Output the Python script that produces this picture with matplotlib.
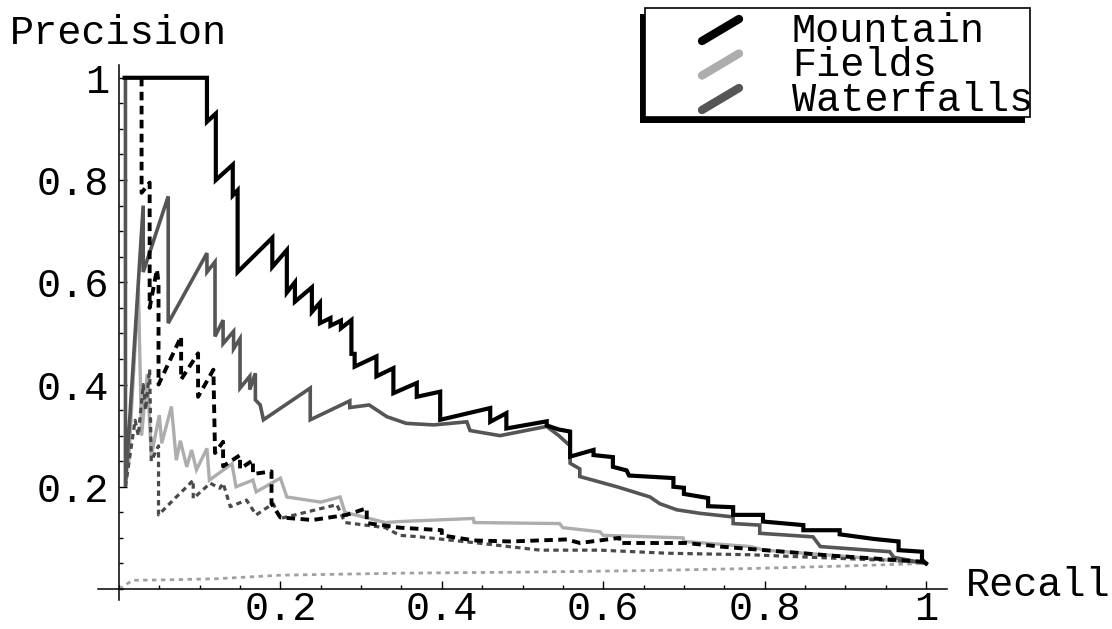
import matplotlib
matplotlib.use("Agg")
import matplotlib.pyplot as plt
from matplotlib.patches import Rectangle
from matplotlib.ticker import MultipleLocator

# --- data (recall, precision) ---
mountain_x = [0.007, 0.109, 0.109, 0.120, 0.120, 0.141, 0.141, 0.147, 0.147, 0.190,
              0.190, 0.208, 0.208, 0.218, 0.218, 0.239, 0.239, 0.249, 0.249, 0.262,
              0.262, 0.275, 0.275, 0.288, 0.288, 0.292, 0.292, 0.319, 0.319, 0.340,
              0.340, 0.369, 0.369, 0.398, 0.398, 0.460, 0.460, 0.480, 0.480, 0.530,
              0.530, 0.545, 0.559, 0.559, 0.588, 0.588, 0.612, 0.612, 0.629, 0.632,
              0.687, 0.687, 0.700, 0.700, 0.730, 0.730, 0.761, 0.761, 0.798, 0.798,
              0.848, 0.848, 0.893, 0.893, 0.935, 0.966, 0.966, 0.995, 0.995, 1.000]
mountain_y = [1.000, 1.000, 0.914, 0.930, 0.800, 0.830, 0.770, 0.780, 0.620, 0.687,
              0.630, 0.663, 0.580, 0.600, 0.562, 0.590, 0.542, 0.560, 0.520, 0.530,
              0.515, 0.525, 0.510, 0.526, 0.460, 0.460, 0.435, 0.455, 0.416, 0.432,
              0.383, 0.403, 0.376, 0.386, 0.331, 0.354, 0.327, 0.344, 0.314, 0.328,
              0.320, 0.312, 0.308, 0.259, 0.272, 0.262, 0.258, 0.239, 0.232, 0.222,
              0.217, 0.200, 0.198, 0.186, 0.178, 0.162, 0.160, 0.145, 0.145, 0.132,
              0.125, 0.115, 0.115, 0.107, 0.098, 0.093, 0.076, 0.073, 0.057, 0.050]

mountain_d_x = [0.028, 0.028, 0.038, 0.038, 0.047, 0.049, 0.049, 0.077, 0.077, 0.098,
                0.098, 0.117, 0.119, 0.129, 0.129, 0.150, 0.150, 0.166, 0.166, 0.189,
                0.189, 0.200, 0.240, 0.282, 0.307, 0.307, 0.348, 0.400, 0.400, 0.440,
                0.485, 0.555, 0.571, 0.620, 0.620, 0.703, 0.745, 0.800, 0.885, 1.000]
mountain_d_y = [1.000, 0.775, 0.795, 0.550, 0.625, 0.600, 0.400, 0.494, 0.410, 0.461,
                0.376, 0.429, 0.266, 0.288, 0.240, 0.262, 0.235, 0.252, 0.225, 0.230,
                0.167, 0.140, 0.135, 0.145, 0.158, 0.129, 0.120, 0.115, 0.105, 0.095,
                0.093, 0.097, 0.090, 0.100, 0.090, 0.090, 0.083, 0.076, 0.065, 0.053]

waterfalls_x = [0.008, 0.008, 0.030, 0.030, 0.061, 0.061, 0.109, 0.109, 0.119, 0.119,
                0.129, 0.129, 0.142, 0.142, 0.150, 0.150, 0.162, 0.162, 0.169, 0.169,
                0.175, 0.179, 0.237, 0.237, 0.286, 0.286, 0.310, 0.332, 0.356, 0.390,
                0.431, 0.435, 0.472, 0.530, 0.545, 0.559, 0.559, 0.571, 0.571, 0.617,
                0.658, 0.670, 0.691, 0.720, 0.761, 0.761, 0.794, 0.794, 0.860, 0.869,
                0.955, 0.960, 1.000]
waterfalls_y = [1.000, 0.200, 0.750, 0.620, 0.768, 0.520, 0.657, 0.620, 0.640, 0.494,
                0.526, 0.480, 0.504, 0.470, 0.490, 0.393, 0.416, 0.390, 0.422, 0.370,
                0.360, 0.331, 0.393, 0.331, 0.368, 0.355, 0.360, 0.337, 0.324, 0.321,
                0.327, 0.310, 0.300, 0.318, 0.300, 0.280, 0.246, 0.235, 0.220, 0.200,
                0.180, 0.167, 0.155, 0.148, 0.141, 0.128, 0.125, 0.109, 0.102, 0.083,
                0.073, 0.062, 0.050]

waterfalls_d_x = [0.008, 0.020, 0.024, 0.030, 0.033, 0.038, 0.040, 0.049, 0.049, 0.071,
                  0.084, 0.092, 0.092, 0.113, 0.125, 0.129, 0.138, 0.158, 0.170, 0.191,
                  0.200, 0.270, 0.280, 0.330, 0.348, 0.373, 0.450, 0.522, 0.596, 0.679,
                  0.782, 0.844, 1.000]
waterfalls_d_y = [0.200, 0.330, 0.300, 0.400, 0.350, 0.430, 0.250, 0.280, 0.145, 0.180,
                  0.200, 0.213, 0.177, 0.207, 0.197, 0.207, 0.161, 0.174, 0.145, 0.167,
                  0.138, 0.165, 0.130, 0.120, 0.105, 0.102, 0.089, 0.076, 0.076, 0.070,
                  0.067, 0.063, 0.053]

fields_x = [0.012, 0.024, 0.028, 0.035, 0.040, 0.050, 0.053, 0.065, 0.071, 0.076,
            0.084, 0.090, 0.096, 0.109, 0.112, 0.140, 0.145, 0.166, 0.170, 0.200,
            0.208, 0.250, 0.274, 0.280, 0.330, 0.348, 0.439, 0.440, 0.546, 0.550,
            0.596, 0.600, 0.699, 0.700, 0.782, 0.800, 0.900, 1.000]
fields_y = [0.250, 0.590, 0.300, 0.420, 0.260, 0.340, 0.285, 0.357, 0.252, 0.290,
            0.239, 0.272, 0.233, 0.275, 0.213, 0.245, 0.200, 0.213, 0.190, 0.217,
            0.180, 0.170, 0.180, 0.150, 0.130, 0.132, 0.138, 0.130, 0.128, 0.120,
            0.112, 0.105, 0.100, 0.093, 0.083, 0.076, 0.064, 0.050]

fields_d_x = [0.000, 0.017, 0.060, 0.120, 0.200, 0.350, 0.500, 0.650, 0.780, 0.900, 1.000]
fields_d_y = [0.000, 0.017, 0.018, 0.020, 0.027, 0.031, 0.033, 0.036, 0.040, 0.045, 0.050]

tick_vals = [0.2, 0.4, 0.6, 0.8, 1.0]
tick_labels = ["0.2", "0.4", "0.6", "0.8", "1"]
legend_names = ["Mountain", "Fields", "Waterfalls"]

BLACK = "#000000"
DARK = "#555555"
LIGHT = "#adadad"
legend_colors = [BLACK, LIGHT, DARK]

W, H = 1112, 629
FS = 29

plt.rcParams['font.family'] = ['Liberation Mono', 'DejaVu Sans Mono']

fig = plt.figure(figsize=(W / 100, H / 100), dpi=100)
ax = fig.add_axes([98 / W, 29 / H, (947 - 98) / W, (600 - 65) / H])

# curves
ax.plot(fields_d_x, fields_d_y, color="#a0a0a0", lw=2.0, linestyle=(0, (1.6, 1.6)))
ax.plot(fields_x, fields_y, color=LIGHT, lw=2.4, solid_joinstyle='miter')
ax.plot(waterfalls_d_x, waterfalls_d_y, color="#4a4a4a", lw=2.3, linestyle=(0, (1.7, 1.3)))
ax.plot(waterfalls_x, waterfalls_y, color=DARK, lw=2.6, solid_joinstyle='miter')
ax.plot(mountain_d_x, mountain_d_y, color=BLACK, lw=2.8, linestyle=(0, (2.2, 1.4)))
ax.plot(mountain_x, mountain_y, color=BLACK, lw=3.0, solid_joinstyle='miter')

ax.set_xlim(-0.026, 1.026)
ax.set_ylim(-0.0215, 1.025)

# Mathematica-style axes crossing at the origin
for side in ['top', 'right']:
    ax.spines[side].set_visible(False)
for side in ['left', 'bottom']:
    ax.spines[side].set_position(('data', 0))
    ax.spines[side].set_linewidth(1.1)

ax.set_xticks(tick_vals, tick_labels)
ax.set_yticks(tick_vals, tick_labels)
ax.xaxis.set_minor_locator(MultipleLocator(0.05))
ax.yaxis.set_minor_locator(MultipleLocator(0.05))
ax.tick_params(which='both', direction='in', width=1.0, labelsize=FS)
ax.tick_params(which='major', length=5.5)
ax.tick_params(which='minor', length=3)
ax.tick_params(axis='x', pad=1)
ax.tick_params(axis='y', pad=7)

fig.text(10 / W, 1 - 33 / H, "Precision", fontsize=FS, ha='left', va='center')
fig.text(966 / W, 1 - 585 / H, "Recall", fontsize=FS, ha='left', va='center')

# legend box with drop shadow, drawn in pixel space
lax = fig.add_axes([0, 0, 1, 1])
lax.set_xlim(0, W)
lax.set_ylim(H, 0)
lax.axis('off')
lax.patch.set_visible(False)
lax.add_patch(Rectangle((640, 14), 385, 109, facecolor='black', edgecolor='none'))
lax.add_patch(Rectangle((645, 8), 385, 109, facecolor='white', edgecolor='black', lw=1.2))
for i, (name, col) in enumerate(zip(legend_names, legend_colors)):
    yc = 31 + i * 34.5
    lax.plot([702, 739], [yc + 10, yc - 12], color=col, lw=6, solid_capstyle='round')
    lax.text(792, yc, name, fontsize=FS, ha='left', va='center')

fig.savefig("out.png", dpi=100)
